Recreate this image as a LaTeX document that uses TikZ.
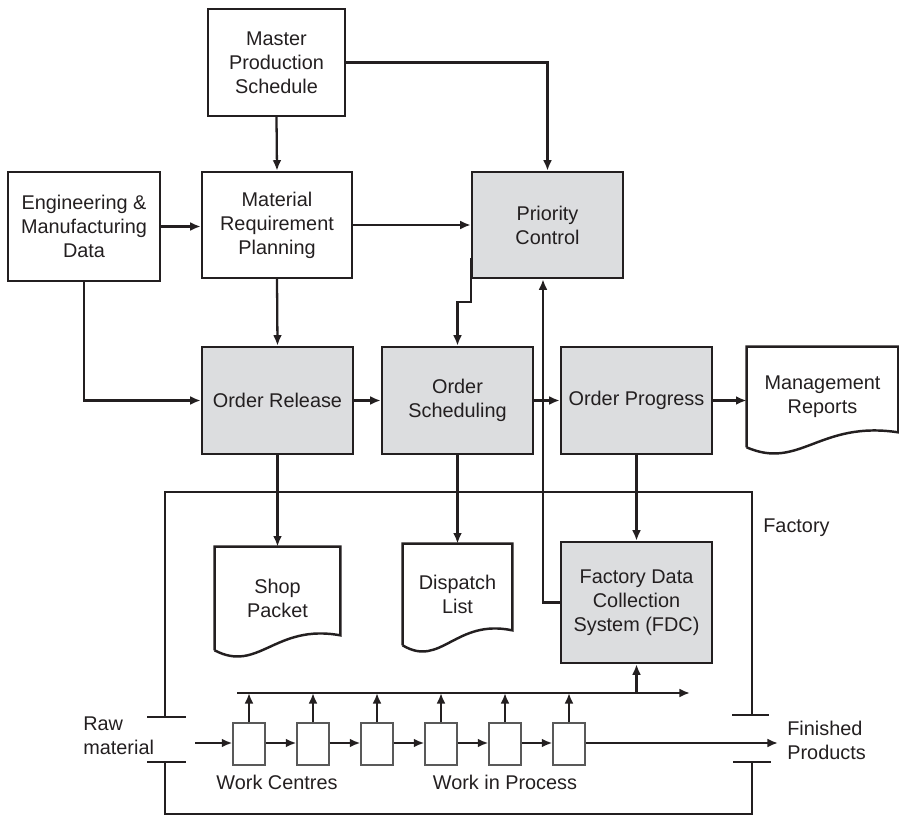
\documentclass[tikz,border=0pt]{standalone}
\usepackage{fontspec}
\setmainfont{Liberation Sans}
\usepackage{tikz}
\usetikzlibrary{arrows.meta,calc}
\definecolor{ink}{RGB}{35,31,32}
\definecolor{boxgray}{RGB}{220,221,223}
\newcommand{\docline}[1]{%
  \draw[docbox] (#1.south west) -- (#1.north west) -- (#1.north east)
    -- ($(#1.south east)+(0,0.3)$)
    .. controls ($(#1.south west)!0.48!(#1.south east)+(0,0.54)$)
    and ($(#1.south west)!0.35!(#1.south east)+(0,-0.46)$)
    .. (#1.south west);}

\begin{document}
\begin{tikzpicture}[
    every node/.style={font=\fontsize{11.3}{13.7}\selectfont, text=ink},
    blk/.style={draw=ink, line width=1.4pt, minimum width=3.02cm,
      minimum height=2.12cm, align=center, inner sep=2pt},
    gblk/.style={blk, fill=boxgray},
    doc/.style={minimum width=3.02cm, minimum height=2cm, align=center},
    docbox/.style={draw=ink, line width=1.4pt},
    wire/.style={draw=ink, line width=1.3pt},
    arr/.style={wire, -{Latex[length=6pt,width=5pt]}},
    wc/.style={draw=gray!70!black, line width=0.7pt, minimum width=0.64cm,
      minimum height=0.84cm, inner sep=0pt},
    lbl/.style={align=left, anchor=west, inner sep=0pt},
  ]
  \useasboundingbox (0,0) rectangle (17.98,-16.32);

  % Planning level
  \node[blk, minimum width=2.74cm, minimum height=2.14cm] (mps) at (5.53,-1.25)
    {Master\\Production\\Schedule};
  \node[blk, minimum width=3.04cm, minimum height=2.18cm] (eng) at (1.68,-4.53)
    {Engineering \&\\Manufacturing\\Data};
  \node[blk, minimum width=3.00cm] (mrp) at (5.54,-4.50)
    {Material\\Requirement\\Planning};
  \node[gblk] (pc) at (10.95,-4.50) {Priority\\Control};

  % Order level
  \node[gblk, minimum height=2.14cm] (orel) at (5.55,-8.01) {Order Release};
  \node[gblk, minimum height=2.14cm] (osch) at (9.15,-8.01) {Order\\Scheduling};
  \node[gblk, minimum height=2.14cm] (oprog) at (12.73,-8.01) {Order Progress};
  \node[doc] (mgmt) at (16.45,-7.94) {Management\\Reports};
  \docline{mgmt}

  % Documents and data collection
  \node[doc, minimum width=2.50cm, minimum height=2.06cm] (shop) at (5.55,-11.97)
    {Shop\\Packet};
  \docline{shop}
  \node[doc, minimum width=2.18cm, minimum height=2.02cm] (disp) at (9.15,-11.89)
    {Dispatch\\List};
  \docline{disp}
  \node[gblk, minimum height=2.42cm] (fdc) at (12.73,-12.05)
    {Factory Data\\Collection\\System (FDC)};

  % Connectors
  \draw[arr] (mps.south) -- (mrp.north);
  \draw[arr] (mps.east) -| (pc.north);
  \draw[arr] (eng.east) -- (eng.east -| mrp.west);
  \draw[arr] (mrp.east) -- (pc.west);
  \draw[arr] (mrp.south) -- (orel.north);
  \draw[arr] (eng.south) |- (orel.west);
  \draw[arr] ($(pc.south west)+(0,0.42)$) -- ($(pc.south west)+(0,-0.46)$)
    -| (osch.north);
  \draw[arr] (orel.east) -- (osch.west);
  \draw[arr] (osch.east) -- (oprog.west);
  \draw[arr] (oprog.east) -- (oprog.east -| mgmt.west);
  \draw[arr] (orel.south) -- (shop.north);
  \draw[arr] (osch.south) -- (disp.north);
  \draw[arr] (oprog.south) -- (fdc.north);
  \draw[arr] (fdc.west) -| ($(pc.south)+(-0.09,0)$);

  % Factory boundary
  \draw[wire] (3.30,-14.34) |- (15.04,-9.84) -- (15.04,-14.30);
  \draw[wire] (2.94,-14.34) -- (3.72,-14.34);
  \draw[wire] (14.64,-14.30) -- (15.38,-14.30);
  \draw[wire] (2.94,-15.24) -- (3.72,-15.24);
  \draw[wire] (14.66,-15.24) -- (15.42,-15.24);
  \draw[wire] (3.30,-15.24) |- (15.04,-16.28) -- (15.04,-15.24);

  % Work centres
  \foreach \i [count=\n] in {0,...,5} {
    \node[wc] (wc\n) at ({4.98+1.28*\i},-14.88) {};
  }
  \coordinate (busL) at (4.74,-13.86);
  \coordinate (busR) at (13.80,-13.86);
  \coordinate (rawin) at (3.90,-14.86);
  \coordinate (finout) at (15.56,-14.86);
  \draw[arr] (busL) -- (busR);
  \foreach \n in {1,...,6} {
    \draw[arr] (wc\n.north) -- (wc\n.north |- busL);
  }
  \foreach \n [evaluate=\n as \m using int(\n+1)] in {1,...,5} {
    \draw[arr] (wc\n.east |- rawin) -- (wc\m.west |- rawin);
  }
  \draw[arr] (rawin) -- (rawin -| wc1.west);
  \draw[arr] (wc6.east |- finout) -- (finout);
  \draw[arr] (fdc.south |- busL) -- (fdc.south);

  % Labels
  \node[lbl] (factory) at (15.26,-10.56) {Factory};
  \node[lbl] (raw) at (1.66,-14.72) {Raw\\material};
  \node[lbl] (fin) at (15.74,-14.80) {Finished\\Products};
  \node (wclbl) at (5.54,-15.64) {Work Centres};
  \node (wiplbl) at (10.10,-15.64) {Work in Process};

\end{tikzpicture}
\end{document}
